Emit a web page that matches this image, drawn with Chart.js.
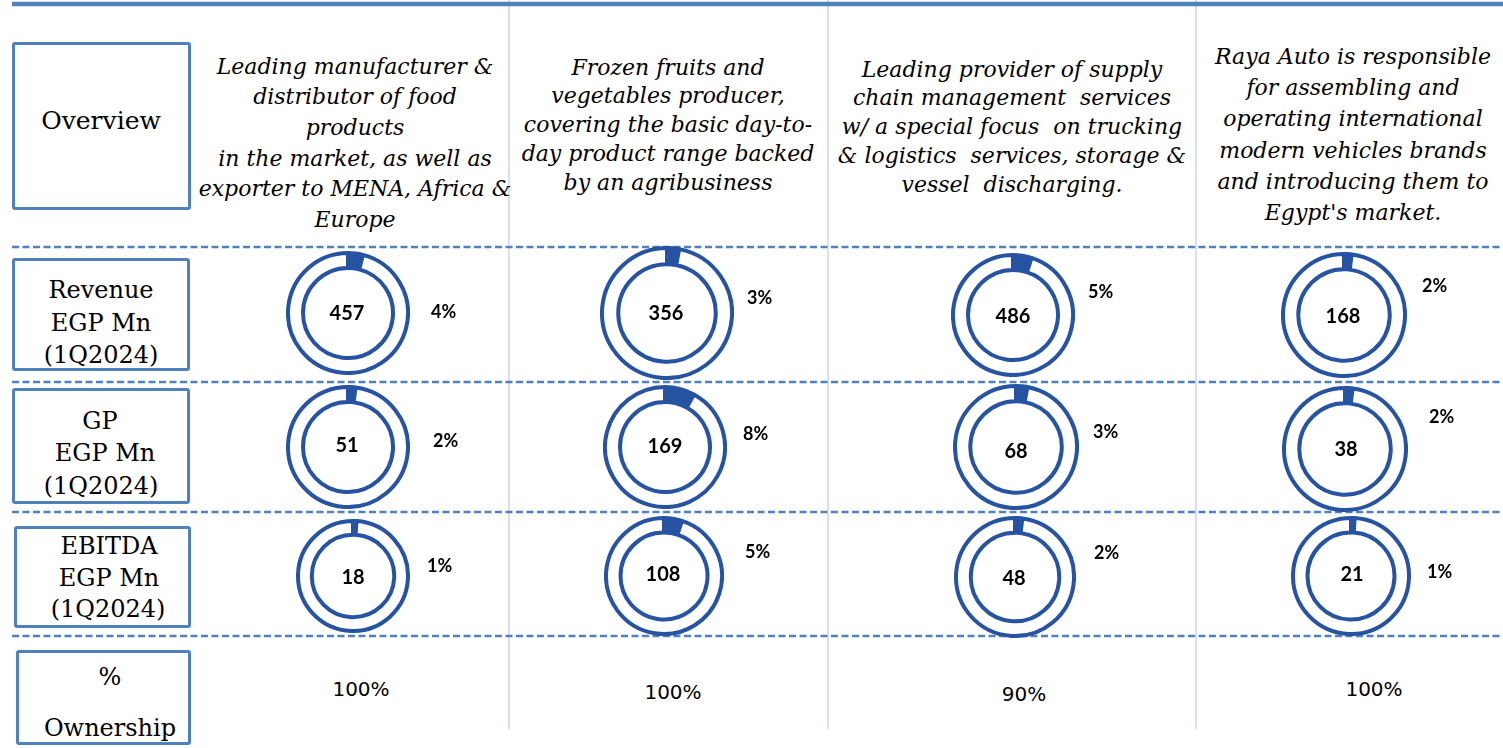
<!DOCTYPE html>
<html>
<head>
<meta charset="utf-8">
<script src="https://cdn.jsdelivr.net/npm/chart.js@4.4.1/dist/chart.umd.min.js"></script>
<style>
  html, body { margin: 0; padding: 0; background: #fff; }
  #stage { position: relative; width: 1503px; height: 748px; overflow: hidden; background: #fff; }
  .t { position: absolute; white-space: pre; text-align: center; color: #000; }
  .box { position: absolute; box-sizing: border-box; border: 3px solid #4f81bd; border-radius: 3px; background: #fff; }
  canvas.d { position: absolute; }
  svg { position: absolute; left: 0; top: 0; }
</style>
</head>
<body>
<div id="stage">
<svg width="1503" height="748" id="deco"></svg>
</div>
<script>
// ---------------- DATA ----------------
const descriptions = [
  ["Leading manufacturer &", "distributor of food", "products", "in the market, as well as", "exporter to MENA, Africa &", "Europe"],
  ["Frozen fruits and", "vegetables producer,", "covering the basic day-to-", "day product range backed", "by an agribusiness"],
  ["Leading provider of supply", "chain management  services", "w/ a special focus  on trucking", "& logistics  services, storage &", "vessel  discharging."],
  ["Raya Auto is responsible", "for assembling and", "operating international", "modern vehicles brands", "and introducing them to", "Egypt's market."]
];
const rowLabels = [
  ["Overview"],
  ["Revenue", "EGP Mn", "(1Q2024)"],
  ["GP", "EGP Mn", "(1Q2024)"],
  ["EBITDA", "EGP Mn", "(1Q2024)"],
  ["%", "Ownership"]
];
const revenue      = [457, 356, 486, 168];
const revenueShare = [4, 3, 5, 2];
const grossProfit  = [51, 169, 68, 38];
const gpShare      = [2, 8, 3, 2];
const ebitda       = [18, 108, 48, 21];
const ebitdaShare  = [1, 5, 2, 1];
const ownership    = [100, 100, 90, 100];

// ---------------- LAYOUT (positions / styles only) ----------------
const BLUE = '#2753a3';
const LINE = '#4f81bd';
const stage = document.getElementById('stage');

const donutGeom = [ // [cx, cy, outer radius]
  [[348,313,60],[667,313,65],[1013,315,60],[1344,315,61]],
  [[348,447,60],[665,447,60],[1016,447,61],[1345,449,61]],
  [[353,576,55],[664,576,58],[1015,577,59],[1351,576,58]]
];
const valuePos = [
  [[347,312],[666,312],[1013,315],[1343,315]],
  [[347,444],[665,445],[1016,450],[1346,448]],
  [[353,576],[663,573],[1014,577],[1352,573]]
];
const sharePos = [ // [left x, center y]
  [[431,311],[747,297],[1088,291],[1422,285]],
  [[433,440],[743,433],[1093,431],[1429,416]],
  [[427,565],[745,551],[1094,552],[1427,571]]
];
const descLayout = [ // [center x, first line y, line spacing, font px]
  [355, 69, 30.6, 22],
  [668, 69, 28.75, 22],
  [1012, 71, 28.75, 22],
  [1353, 59.5, 31.2, 22]
];
const boxes = [ // [x, y, w, h]
  [12, 42, 179, 168],
  [12, 258, 178, 113],
  [12, 388, 178, 116],
  [14, 526, 177, 102],
  [16, 650, 175, 95]
];
const labelPos = [
  [[101,121]],
  [[101,291],[101,324],[101,356]],
  [[100,422],[105,454],[101,487]],
  [[109,547],[109,579],[108,610]],
  [[110,678],[110,729]]
];
const ownPos = [[361,690],[673,693],[1024,695],[1374,690]];

// ---------------- DECORATION ----------------
const svg = document.getElementById('deco');
let s = '';
[509, 828, 1196].forEach(x => { s += `<line x1="${x}" y1="0" x2="${x}" y2="729" stroke="#c8d7ec" stroke-width="1.5"/>`; });
s += `<line x1="12" y1="4" x2="1503" y2="4" stroke="${LINE}" stroke-width="4.5"/>`;
[247, 382, 512, 636].forEach(y => { s += `<line x1="12" y1="${y}" x2="1503" y2="${y}" stroke="${LINE}" stroke-width="2.5" stroke-dasharray="7 3.5"/>`; });
svg.innerHTML = s;

function text(str, cx, cy, font, lh) {
  const d = document.createElement('div');
  d.className = 't';
  d.textContent = str;
  d.style.left = (cx - 300) + 'px';
  d.style.width = '600px';
  d.style.top = (cy - lh / 2) + 'px';
  d.style.height = lh + 'px';
  d.style.lineHeight = lh + 'px';
  d.style.font = font;
  stage.appendChild(d);
  return d;
}

// label boxes
boxes.forEach((b, i) => {
  const d = document.createElement('div');
  d.className = 'box';
  d.style.left = b[0] + 'px'; d.style.top = b[1] + 'px';
  d.style.width = b[2] + 'px'; d.style.height = b[3] + 'px';
  stage.appendChild(d);
  rowLabels[i].forEach((ln, j) => {
    const p = labelPos[i][j];
    text(ln, p[0], p[1], (i === 0 ? '25px' : '24px') + ' "DejaVu Serif"', 30);
  });
});

// descriptions
descriptions.forEach((lines, c) => {
  const L = descLayout[c];
  lines.forEach((ln, j) => {
    text(ln, L[0], L[1] + j * L[2], `italic ${L[3]}px "DejaVu Serif"`, L[2]);
  });
});

// donuts
const rows = [[revenue, revenueShare], [grossProfit, gpShare], [ebitda, ebitdaShare]];
rows.forEach((pair, r) => {
  const vals = pair[0], shares = pair[1];
  vals.forEach((v, c) => {
    const g = donutGeom[r][c];
    const bw = 4;
    const S = 2 * g[2] + bw;
    const cv = document.createElement('canvas');
    cv.className = 'd';
    cv.width = S; cv.height = S;
    cv.style.width = S + 'px'; cv.style.height = S + 'px';
    cv.style.left = (g[0] - S / 2) + 'px';
    cv.style.top = (g[1] - S / 2) + 'px';
    stage.appendChild(cv);
    new Chart(cv, {
      type: 'doughnut',
      data: {
        labels: ['Share', 'Rest'],
        datasets: [{
          data: [shares[c], 100 - shares[c]],
          backgroundColor: [BLUE, '#ffffff'],
          borderColor: BLUE,
          borderWidth: bw,
          hoverOffset: 0
        }]
      },
      options: {
        responsive: false,
        animation: false,
        events: [],
        cutout: '75%',
        layout: { padding: 0 },
        plugins: { legend: { display: false }, tooltip: { enabled: false } }
      }
    });
    const vp = valuePos[r][c];
    text(String(v), vp[0], vp[1], 'bold 20px Lato', 24);
    const sp = sharePos[r][c];
    const t = text(shares[c] + '%', sp[0] + 300, sp[1], 'bold 18px Lato', 22);
    t.style.textAlign = 'left';
  });
});

// ownership
ownership.forEach((o, c) => {
  text(o + '%', ownPos[c][0], ownPos[c][1], '20px "DejaVu Sans"', 26);
});
</script>
</body>
</html>
